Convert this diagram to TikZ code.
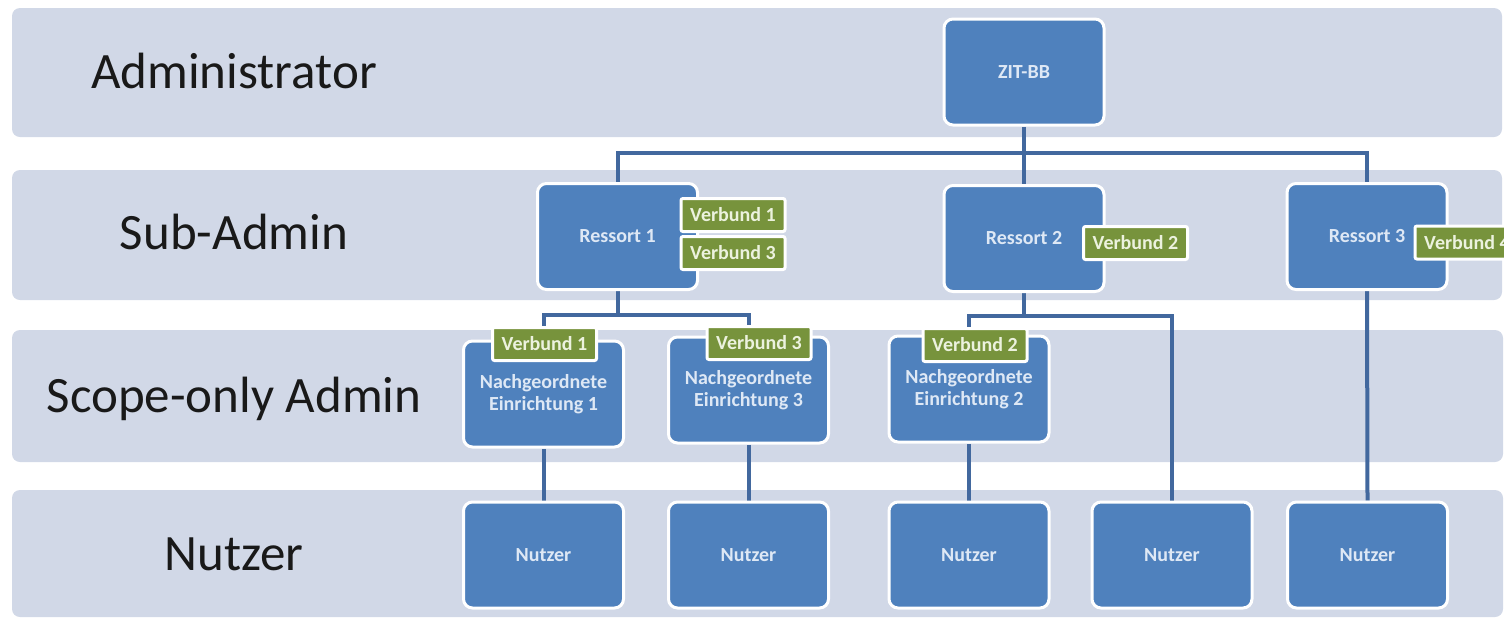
\documentclass[tikz,border=0pt]{standalone}
\usepackage{fontspec}
\setmainfont{Carlito}
\usepackage{tikz}
\usepackage{xcolor}
\usetikzlibrary{positioning, backgrounds}

\definecolor{laneblue}{RGB}{209,216,231}
\definecolor{boxblue}{RGB}{79,129,189}
\definecolor{boxtext}{RGB}{222,232,245}
\definecolor{tagolive}{RGB}{119,147,60}
\definecolor{tagtext}{RGB}{236,242,222}
\definecolor{linkblue}{RGB}{66,104,158}

\begin{document}
\begin{tikzpicture}[x=1pt, y=-1pt,
  lane/.style={fill=laneblue, rounded corners=8pt},
  lanelabel/.style={anchor=base, font=\fontsize{51}{60}\selectfont, text=black!90},
  unit/.style={rectangle, rounded corners=9pt, draw=white, line width=3pt, fill=boxblue,
    minimum width=160pt, minimum height=106pt, align=center, text=boxtext,
    font=\fontsize{20}{22}\selectfont\bfseries, inner sep=2pt},
  verbund/.style={rectangle, rounded corners=2pt, draw=white, line width=3pt, fill=tagolive,
    minimum width=104pt, minimum height=33pt, text=tagtext,
    font=\fontsize{20}{22}\selectfont\bfseries, inner sep=1pt},
  link/.style={draw=linkblue, line width=4pt}]
  \useasboundingbox (0,0) rectangle (1504,619);

  % lane labels
  \node[lanelabel] (labadmin) at (234,88) {Administrator};
  \node[lanelabel] (labsub) at (234,249) {Sub-Admin};
  \node[lanelabel] (labscope) at (234,412) {Scope-only Admin};
  \node[lanelabel] (labnutzer) at (234,570) {Nutzer};

  % boxes
  \node[unit] (zit) at (1024,72) {ZIT-BB};
  \node[unit] (r1) at (617.5,236.5) {Ressort 1};
  \node[unit] (r2) at (1024,238.5) {Ressort 2};
  \node[unit] (r3) at (1367,236.5) {Ressort 3};
  \node[unit] (ne1) at (543.5,394) {Nachgeordnete\\Einrichtung 1};
  \node[unit] (ne3) at (748.5,390) {Nachgeordnete\\Einrichtung 3};
  \node[unit] (ne2) at (969,389) {Nachgeordnete\\Einrichtung 2};
  \node[unit] (nu1) at (543.5,555) {Nutzer};
  \node[unit] (nu2) at (748.5,555) {Nutzer};
  \node[unit] (nu3) at (969,555) {Nutzer};
  \node[unit] (nu4) at (1172,555) {Nutzer};
  \node[unit] (nu5) at (1367.5,555) {Nutzer};

  % verbund tags
  \node[verbund] (v11) at (733,215) {Verbund 1};
  \node[verbund] (v13) at (733,253) {Verbund 3};
  \node[verbund] (v2) at (1135.5,243) {Verbund 2};
  \node[verbund] (v4) at (1467,242.5) {Verbund 4};
  \node[verbund] (w1) at (544.5,344) {Verbund 1};
  \node[verbund] (w3) at (759,343) {Verbund 3};
  \node[verbund] (w2) at (975,345) {Verbund 2};

  \begin{scope}[on background layer]
    \fill[lane] (12,8) rectangle (1502,137);
    \fill[lane] (12,170) rectangle (1502,300);
    \fill[lane] (12,330) rectangle (1503,462);
    \fill[lane] (12,490) rectangle (1503,617);

    \coordinate (top) at (1024,153);
    \coordinate (mid1) at (r1.south |- 0,315);
    \coordinate (mid2) at (r2.south |- 0,316);
    \draw[link] (zit.south) -- (top);
    \draw[link] (top) -| (r1.north);
    \draw[link] (top) -- (r2.north);
    \draw[link] (top) -| (r3.north);
    \draw[link] (r1.south) -- (mid1);
    \draw[link] (mid1) -| (ne1.north);
    \draw[link] (mid1) -| (ne3.north);
    \draw[link] (r2.south) -- (mid2);
    \draw[link] (mid2) -| (ne2.north);
    \draw[link] (mid2) -| (nu4.north);
    \draw[link] (r3.south) -- (nu5.north);
    \draw[link] (ne1.south) -- (nu1.north);
    \draw[link] (ne3.south) -- (nu2.north);
    \draw[link] (ne2.south) -- (nu3.north);
  \end{scope}
\end{tikzpicture}
\end{document}
